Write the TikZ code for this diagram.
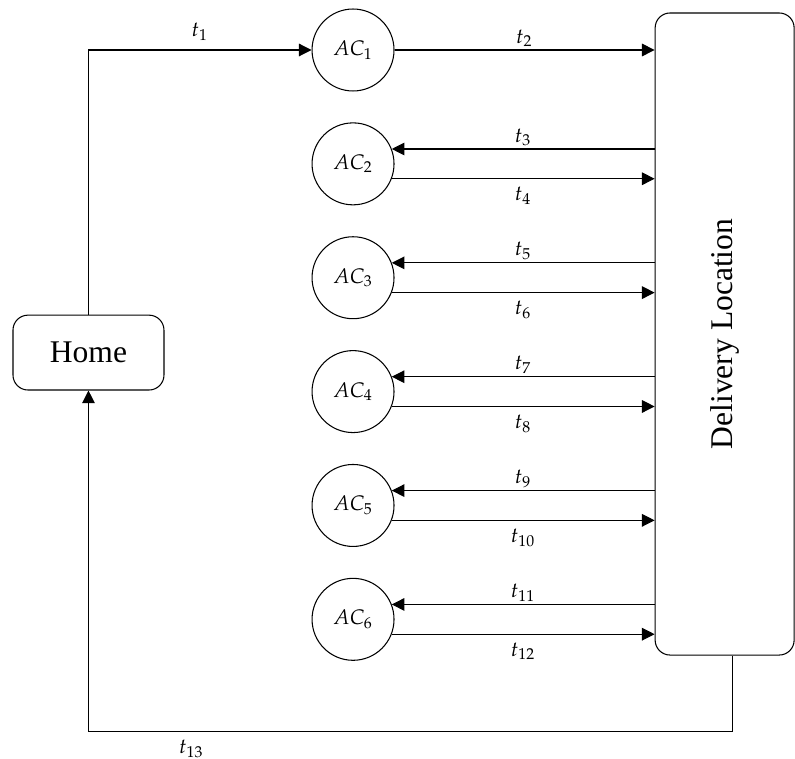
\documentclass[tikz,border=0pt]{standalone}
\usepackage{mathpazo}
\usepackage{fontspec}
\setmainfont{Liberation Serif}
\usepackage{tikz}
\usetikzlibrary{positioning}
\usetikzlibrary{arrows.meta}

\begin{document}
\begin{tikzpicture}[
    node distance=0.412cm and 1.2cm,
    ac/.style={circle, draw, minimum size=1.095cm, inner sep=0pt, font=\footnotesize},
    place/.style={rectangle, draw, rounded corners=0.2cm, font=\large},
    arrow/.style={-{Triangle[length=4.8pt,width=4.8pt]}, line width=0.4pt},
    lbl/.style={font=\footnotesize, inner sep=1pt}
]
\useasboundingbox (0,0) rectangle (10.62,-10.127);

% Aircraft nodes
\node[ac] (ac1) at (4.716,-0.668) {$AC_1$};
\foreach \i [count=\j] in {2,...,6}
    \node[ac, below=0.412cm of ac\j] (ac\i) {$AC_\i$};

% Home and delivery location
\node[place, minimum width=2.017cm, minimum height=1cm] (home) at (1.182,-4.71) {Home};
\node[place, minimum width=1.857cm, minimum height=8.577cm]
    (dl) at (9.68,-4.462) {\rotatebox{90}{Delivery Location}};

% Outbound legs
\draw[arrow] (home.north) |- node[pos=0.75, lbl, above=2.5pt] {$t_1$} (ac1.west);
\draw[arrow] (ac1.east) -- node[lbl, above] {$t_2$} (dl.west |- ac1.east);

% Legs between aircraft and delivery location
\foreach \i/\a/\b in {2/3/4, 3/5/6, 4/7/8, 5/9/10, 6/11/12} {
    \draw[arrow] (dl.west |- ac\i.21) -- node[lbl, above] {$t_{\a}$} (ac\i.21);
    \draw[arrow] (ac\i.-21) -- node[lbl, below=2pt] {$t_{\b}$} (dl.west |- ac\i.-21);
}

% Return leg
\coordinate (corner) at ([yshift=-4.556cm]home.south);
\draw[arrow] ([xshift=1mm]dl.south) |- node[pos=0.92, lbl, below=2pt] {$t_{13}$} (corner) -- (home.south);
\end{tikzpicture}
\end{document}
